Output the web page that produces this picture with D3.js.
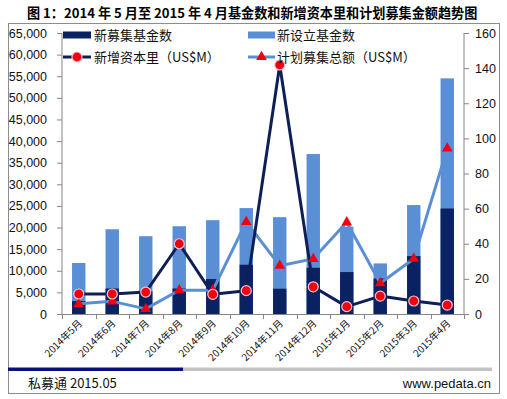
<!DOCTYPE html>
<html><head><meta charset="utf-8">
<script src="https://cdn.jsdelivr.net/npm/d3@7"></script>
<style>
body{margin:0;background:#fff;}
svg{display:block;}
text{font-family:"Liberation Sans",Arial,sans-serif;}
.cjk{font-family:"Noto Sans CJK SC","Liberation Sans",sans-serif;}
</style></head>
<body>
<script>
const title = "图 1：2014 年 5 月至 2015 年 4 月基金数和新增资本里和计划募集金额趋势图";
const categories = ["2014年5月","2014年6月","2014年7月","2014年8月","2014年9月","2014年10月","2014年11月","2014年12月","2015年1月","2015年2月","2015年3月","2015年4月"];
const newEstablished = [11800,19600,18000,20300,21700,24500,22400,37000,20200,11700,25200,54500]; // 新设立基金数
const newRaised = [3000,5900,5300,5900,8100,11400,5850,10700,9700,8200,13400,24400]; // 新募集基金数
const newCapital = [11.4,11.4,12.5,40,11.2,13.3,141.8,15.5,4.2,10.2,7.4,5.1]; // 新增资本里（US$M）
const plannedTotal = [5.8,7.2,2.9,13.5,13.5,52.4,27.5,31.4,52.2,17.5,31.5,94.3]; // 计划募集总额（US$M）
const leftTicks = d3.range(0, 65001, 5000);
const rightTicks = d3.range(0, 161, 20);
const legendItems = ["新募集基金数","新设立基金数","新增资本里（US$M）","计划募集总额（US$M）"];
const footerLeft = "私募通 2015.05";
const footerRight = "www.pedata.cn";

const W = 507, H = 399;
const C = {dark:"#0b2262", light:"#5a8fd6", darkLine:"#0e1f58", lightLine:"#5b8fd4", red:"#f00010", axis:"#868686"};
const svg = d3.select("body").append("svg").attr("width", W).attr("height", H);

// frame
svg.append("rect").attr("x",8.5).attr("y",23.5).attr("width",491).attr("height",370)
  .attr("fill","#fff").attr("stroke","#8c8c8c").attr("stroke-width",1);

// title (fit to 27..478)
const tt = svg.append("text").attr("class","cjk").attr("x",27).attr("y",18)
  .attr("font-size",13).attr("font-weight","bold").attr("fill","#000").text(title);
const tw = tt.node().getComputedTextLength();
if (tw > 0) tt.attr("font-size", Math.min(14, 13 * 451 / tw));

const pL = 62, pR = 464, pT = 33, pB = 314;
const x = d3.scaleBand().domain(categories).range([pL, pR]).padding(0);
const bw = x.bandwidth() * 0.4;
const yL = d3.scaleLinear().domain([0, 65000]).range([pB, pT]);
const yR = d3.scaleLinear().domain([0, 160]).range([pB, pT]);

// bars
svg.append("g").selectAll("rect").data(newEstablished).join("rect")
  .attr("x",(d,i)=>x(categories[i]) + x.bandwidth()/2 - bw/2)
  .attr("y",d=>yL(d)).attr("width",bw).attr("height",d=>yL(0)-yL(d)).attr("fill",C.light);
svg.append("g").selectAll("rect").data(newRaised).join("rect")
  .attr("x",(d,i)=>x(categories[i]) + x.bandwidth()/2 - bw/2)
  .attr("y",d=>yL(d)).attr("width",bw).attr("height",d=>yL(0)-yL(d)).attr("fill",C.dark);

// axes
const gL = svg.append("g").attr("transform",`translate(${pL},0)`)
  .call(d3.axisLeft(yL).tickValues(leftTicks).tickFormat(d3.format(",")).tickSize(5).tickPadding(10));
const gR = svg.append("g").attr("transform",`translate(${pR},0)`)
  .call(d3.axisRight(yR).tickValues(rightTicks).tickSize(5).tickPadding(6));
[gL,gR].forEach(g=>{
  g.selectAll("path,line").attr("stroke",C.axis);
  g.selectAll("text").attr("font-size",12.5).attr("fill","#111");
  g.select(".domain").attr("d", `M0,${pT}V${pB}`);
});
// bottom axis
const gB = svg.append("g");
gB.append("line").attr("x1",pL).attr("x2",pR).attr("y1",pB+0.5).attr("y2",pB+0.5).attr("stroke",C.axis);
gB.selectAll("line.tk").data(categories.concat(["_end"])).join("line").attr("class","tk")
  .attr("x1",(d,i)=>Math.round(pL + i*x.step())+0.5).attr("x2",(d,i)=>Math.round(pL + i*x.step())+0.5)
  .attr("y1",pB).attr("y2",pB+5).attr("stroke",C.axis);
gB.selectAll("text").data(categories).join("text").attr("class","cjk")
  .attr("transform",d=>`translate(${x(d)+x.bandwidth()/2+4},${pB+10}) rotate(-45)`)
  .attr("text-anchor","end").attr("font-size",10).attr("fill","#111").text(d=>d);

// lines
const lineR = d3.line().x((d,i)=>x(categories[i])+x.bandwidth()/2).y(d=>yR(d));
svg.append("path").datum(plannedTotal).attr("d",lineR).attr("fill","none")
  .attr("stroke",C.lightLine).attr("stroke-width",3).attr("stroke-linejoin","round");
svg.append("path").datum(newCapital).attr("d",lineR).attr("fill","none")
  .attr("stroke",C.darkLine).attr("stroke-width",3).attr("stroke-linejoin","round");
const tri = d3.symbol().type(d3.symbolTriangle).size(50);
svg.append("g").selectAll("path").data(plannedTotal).join("path")
  .attr("d",tri).attr("transform",(d,i)=>`translate(${x(categories[i])+x.bandwidth()/2},${yR(d)})`)
  .attr("fill",C.red);
svg.append("g").selectAll("circle").data(newCapital).join("circle")
  .attr("cx",(d,i)=>x(categories[i])+x.bandwidth()/2).attr("cy",d=>yR(d)).attr("r",5)
  .attr("fill",C.red).attr("stroke","#f7c4c4").attr("stroke-width",1.2);

// legend
const lg = svg.append("g");
const lx = [63, 248], ly = [35, 57];
lg.append("rect").attr("x",lx[0]).attr("y",ly[0]-3.5).attr("width",28).attr("height",7).attr("fill",C.dark);
lg.append("rect").attr("x",lx[1]).attr("y",ly[0]-3.5).attr("width",27).attr("height",7).attr("fill",C.light);
lg.append("line").attr("x1",lx[0]).attr("x2",lx[0]+28).attr("y1",ly[1]).attr("y2",ly[1]).attr("stroke",C.darkLine).attr("stroke-width",3);
lg.append("circle").attr("cx",lx[0]+14).attr("cy",ly[1]).attr("r",5).attr("fill",C.red).attr("stroke","#f7c4c4").attr("stroke-width",1.2);
lg.append("line").attr("x1",lx[1]).attr("x2",lx[1]+27).attr("y1",ly[1]).attr("y2",ly[1]).attr("stroke",C.lightLine).attr("stroke-width",3);
lg.append("path").attr("d",tri).attr("transform",`translate(${lx[1]+13.5},${ly[1]})`).attr("fill",C.red);
legendItems.forEach((t,i)=>{
  lg.append("text").attr("class","cjk").attr("x",lx[i%2]+(i%2?29:31)).attr("y",ly[Math.floor(i/2)]+4.5)
    .attr("font-size",13).attr("fill","#111").text(t);
});

// footer
svg.append("rect").attr("x",8).attr("y",367.5).attr("width",175).attr("height",3.5).attr("fill","#0a1277");
svg.append("rect").attr("x",183).attr("y",367.5).attr("width",309).attr("height",3.5).attr("fill","#c3c3c3");
svg.append("text").attr("class","cjk").attr("x",28).attr("y",388).attr("font-size",13).attr("fill","#111").text(footerLeft);
svg.append("text").attr("x",491).attr("y",388).attr("text-anchor","end").attr("font-size",13).attr("fill","#111").text(footerRight);
</script>
</body></html>
